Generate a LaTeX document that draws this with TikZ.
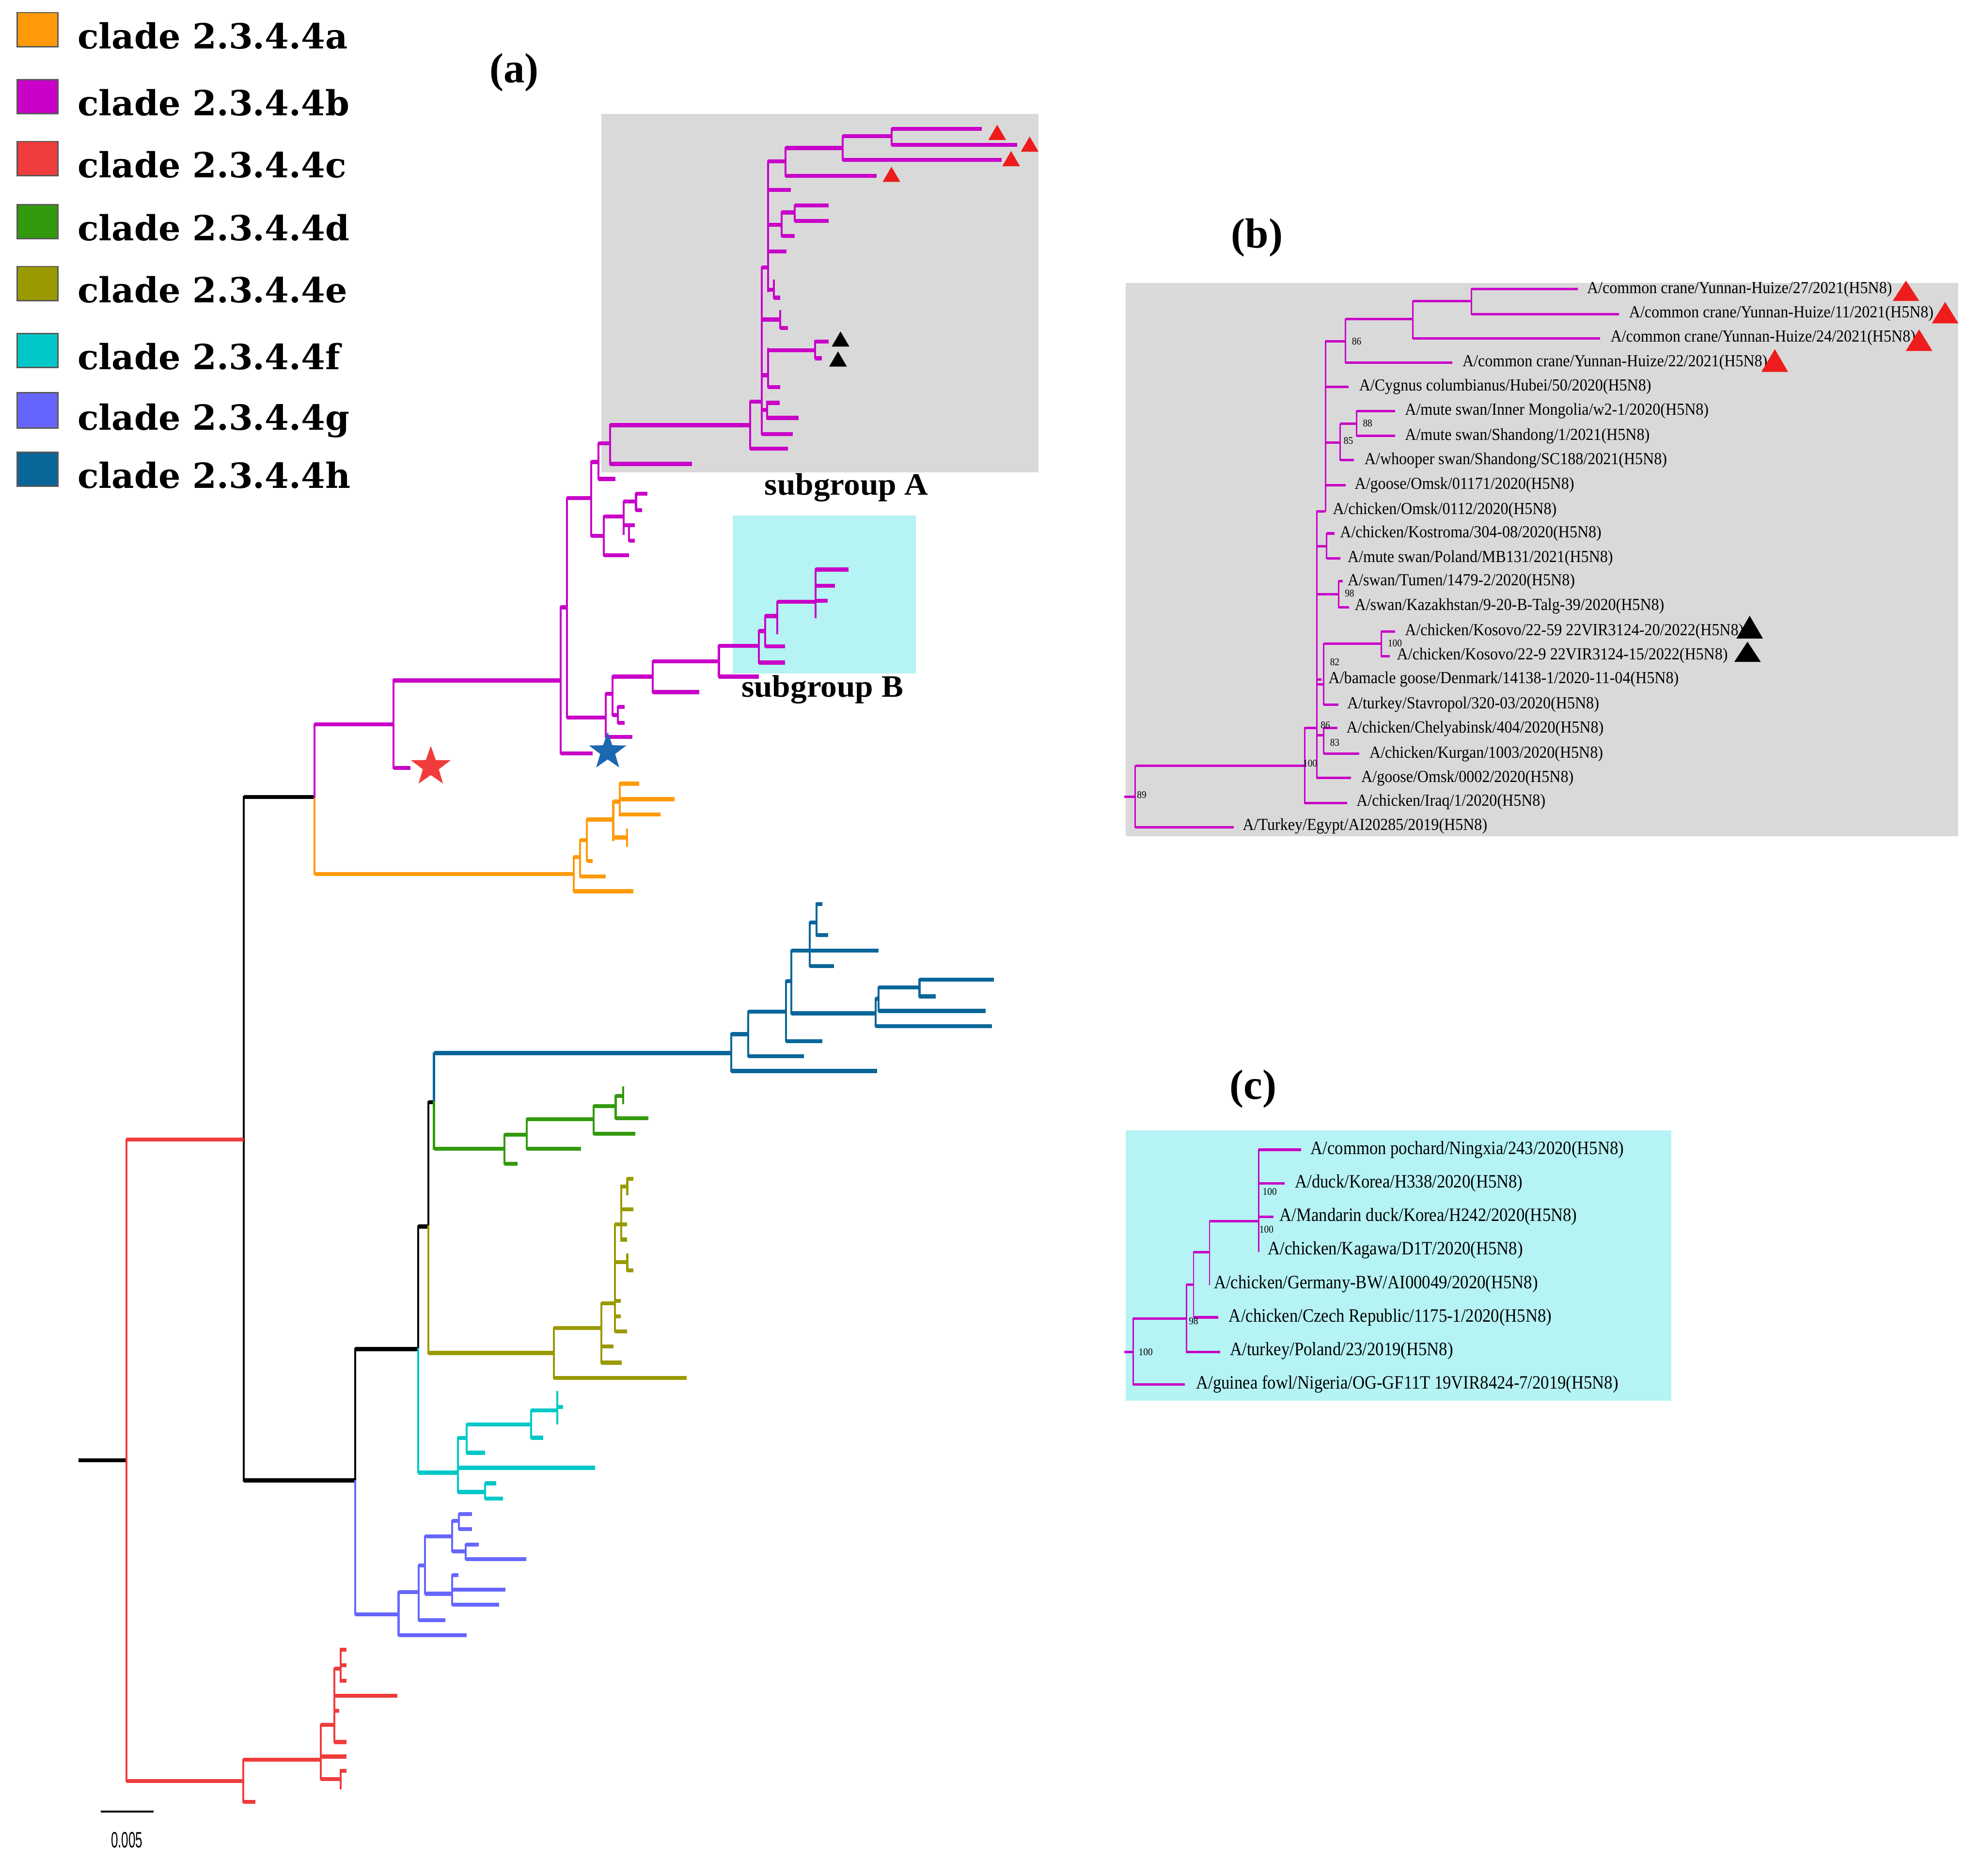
\documentclass[tikz,border=0pt]{standalone}
\usepackage{fontspec}
\setmainfont{Liberation Serif}
\newfontfamily\legfont{DejaVu Serif}
\newfontfamily\bfnt[FakeStretch=0.92]{Liberation Serif}
\newfontfamily\cfnt[FakeStretch=0.89]{Liberation Serif}
\newfontfamily\sgfnt[FakeStretch=1.05]{Liberation Serif}
\newfontfamily\sbfnt[FakeStretch=0.57]{Liberation Sans}
\usetikzlibrary{shapes.geometric}
\definecolor{cA}{HTML}{FF9A0A}
\definecolor{cB}{HTML}{C800C8}
\definecolor{cC}{HTML}{F03C3C}
\definecolor{cD}{HTML}{339A0E}
\definecolor{cE}{HTML}{9A9A00}
\definecolor{cF}{HTML}{00C8C8}
\definecolor{cG}{HTML}{6666FF}
\definecolor{cH}{HTML}{0A6699}
\definecolor{grayA}{HTML}{D9D9D9}
\definecolor{cyanB}{HTML}{B5F3F4}
\definecolor{starblue}{HTML}{1B67B0}
\definecolor{starred}{HTML}{F23B3B}
\definecolor{trired}{HTML}{EE1C1C}
\newcommand\hbr[3]{\draw[hb] (#2,#1) -- (#3,#1);}
\newcommand\vbr[3]{\draw[vb] (#1,#2) -- (#1,#3);}
\newcommand\hbb[3]{\draw[hbs] (#2,#1) -- (#3,#1);}
\newcommand\vbb[3]{\draw[vbs] (#1,#2) -- (#1,#3);}
\newcommand\mytri[5]{\fill[#1] (#2,#3) ++(-#4/2,#5/2) -- ++(#4,0) -- ++(-#4/2,-#5) -- cycle;}
\tikzset{
 hb/.style={line width=0.9pt},
 vb/.style={line width=0.45pt,line cap=rect},
 hbs/.style={line width=0.55pt},
 vbs/.style={line width=0.3pt,line cap=rect},
 lb/.style={anchor=west,inner sep=0pt,font=\bfnt\fontsize{3.8}{4}\selectfont},
 lc/.style={anchor=west,inner sep=0pt,font=\cfnt\fontsize{4.25}{5}\selectfont},
 bs/.style={inner sep=0pt,font=\bfnt\fontsize{2.3}{2.5}\selectfont},
 leg/.style={anchor=base west,inner sep=0pt,font=\legfont\bfseries\fontsize{7.8}{9}\selectfont},
 ttl/.style={inner sep=0pt,font=\bfseries\fontsize{9.5}{11}\selectfont},
 sg/.style={inner sep=0pt,font=\sgfnt\bfseries\fontsize{7}{8}\selectfont},
 sq/.style={draw=black!65,line width=0.3pt},
}
\begin{document}
\begin{tikzpicture}[x=0.01cm,y=-0.01cm]
\useasboundingbox[fill=white] (0,0) rectangle (1568,1485);
% ---------------- legend
\foreach \t/\b/\c/\l [count=\i] in {10/37/cA/a,63/90/cB/b,112/139/cC/c,162/189/cD/d,211/238/cE/e,264/291/cF/f,311/339/cG/g,358/385/cH/h}{
  \filldraw[sq,fill=\c] (13.7,\t) rectangle (45.8,\b);
  \node[leg] (leg\i) at (60.7,\b+1.5) {clade 2.3.4.4\l};
}
% ---------------- boxes
\fill[grayA] (476,90) rectangle (822,374);
\fill[cyanB] (580,408) rectangle (725,533);
\fill[grayA] (891,224) rectangle (1550,662);
\fill[cyanB] (891,895) rectangle (1323,1109);
% ---------------- titles
\node[ttl] (ta) at (407,57.5) {(a)};
\node[ttl] (tb) at (995,188) {(b)};
\node[ttl] (tc) at (992,862) {(c)};
\node[sg] (sgA) at (670,386) {subgroup A};
\node[sg] (sgB) at (651,546) {subgroup B};
% ---------------- tree (a): black backbone
\begin{scope}[black]
\hbr{1156}{62}{100}
\hbr{631}{193}{249}
\vbr{193}{631}{1172}
\hbr{1172}{193}{281}
\vbr{281}{1068}{1172}
\hbr{1068}{281}{331}
\vbr{331}{971}{1068}
\hbr{971}{331}{339}
\vbr{339}{872.6}{971}
\hbr{872.6}{339}{343.5}
\end{scope}
% red clade c
\begin{scope}[cC]
\vbr{100}{902}{1410}
\hbr{902}{100}{193}
\hbr{1410}{100}{192.4}
\vbr{192.4}{1393.1}{1426.5}
\hbr{1426.5}{192.4}{202}
\hbr{1393.1}{192.4}{254}
\vbr{254}{1365.6}{1408.4}
\hbr{1390.6}{254}{274.3}
\hbr{1408.4}{254}{269.5}
\vbr{269.5}{1401.3}{1415.7}
\hbr{1402}{269.5}{274.3}
\hbr{1365.6}{254}{264.7}
\vbr{264.7}{1321}{1379.1}
\hbr{1379.1}{264.7}{274.3}
\hbr{1354.5}{264.7}{268.5}
\hbr{1342.4}{264.7}{314.7}
\hbr{1321}{264.7}{269.5}
\vbr{269.5}{1305.4}{1331.5}
\hbr{1306}{269.5}{274.3}
\hbr{1318.4}{269.5}{274.3}
\hbr{1330.6}{269.5}{274.3}
\end{scope}
% orange clade a
\begin{scope}[cA]
\vbr{249}{631}{691.6}
\hbr{692}{249}{454.2}
\vbr{454.2}{678.5}{705.6}
\hbr{705.6}{454.2}{501.5}
\hbr{678.5}{454.2}{459}
\vbr{459}{665}{694}
\hbr{694}{459}{479.5}
\hbr{665}{459}{464.4}
\vbr{464.4}{648.8}{681.7}
\hbr{681.7}{464.4}{469.2}
\hbr{648.8}{464.4}{485.4}
\vbr{485.4}{634.6}{665}
\hbr{663}{485.4}{496.4}
\vbr{496.4}{656.6}{669.5}
\hbr{634.6}{485.4}{490.5}
\vbr{490.5}{620.4}{645.6}
\hbr{620.4}{490.5}{506}
\hbr{632.7}{490.5}{533.8}
\hbr{644.7}{490.5}{522.8}
\end{scope}
% magenta clade b
\begin{scope}[cB]
\vbr{249}{573.5}{631}
\hbr{573.5}{249}{311.6}
\vbr{311.6}{538}{608}
\hbr{608}{311.6}{325}
\hbr{538.7}{311.6}{443.9}
\vbr{443.9}{480.8}{596.4}
\hbr{480.8}{443.9}{448.8}
\hbr{596.4}{443.9}{469.2}
\vbr{448.8}{394.4}{568.1}
\hbr{394.4}{448.8}{468.1}
\hbr{568.1}{448.8}{479.6}
\vbr{468.1}{365.7}{424.3}
\hbr{365.7}{468.1}{473.8}
\vbr{473.8}{351.1}{379.2}
\hbr{379.2}{473.8}{487.2}
\hbr{351.1}{473.8}{482.8}
\vbr{482.8}{336.6}{367.3}
\hbr{367.3}{482.8}{547.9}
\hbr{336.6}{482.8}{593.6}
\vbr{593.6}{317.9}{355.3}
\hbr{355.3}{593.6}{623.7}
\hbr{317.9}{593.6}{602.9}
\vbr{602.9}{211.8}{343.8}
\hbr{343.8}{602.9}{627.4}
\hbr{324.4}{602.9}{607.1}
\vbr{607.1}{317.9}{331.4}
\hbr{318.9}{607.1}{617.3}
\hbr{330.8}{607.1}{632.2}
\hbr{297.1}{602.9}{607.8}
\vbr{607.8}{276.3}{306.4}
\hbr{277.3}{607.8}{645}
\vbr{645}{270.1}{283.6}
\hbr{270.4}{645}{656}
\hbr{283.6}{645}{650.6}
\hbr{306.4}{607.8}{617.6}
\hbr{253}{602.9}{617.5}
\vbr{617.5}{246.1}{259.6}
\hbr{259.6}{617.5}{623.7}
\hbr{211.8}{602.9}{607.8}
\vbr{607.8}{127.6}{230.5}
\hbr{229.5}{607.8}{612.4}
\vbr{612.4}{222.2}{235.7}
\hbr{235.7}{612.4}{617.6}
\hbr{199}{607.8}{622.5}
\hbr{178}{607.8}{618.8}
\vbr{618.8}{168.2}{186.9}
\hbr{186.9}{618.8}{629.1}
\hbr{168.2}{618.8}{629.1}
\vbr{629.1}{162.6}{174.8}
\hbr{162.6}{629.1}{656}
\hbr{174.8}{629.1}{656}
\hbr{150.5}{607.8}{626.1}
\hbr{127.6}{607.8}{621.7}
\vbr{621.7}{117.2}{139.1}
\hbr{139.1}{621.7}{693.9}
\hbr{117.2}{621.7}{667}
\vbr{667}{107.9}{126.6}
\hbr{126.6}{667}{793}
\hbr{107.9}{667}{705.6}
\vbr{705.6}{102}{114.7}
\hbr{102}{705.6}{777}
\hbr{114.7}{705.6}{805.2}
% upper small clade
\hbr{424.3}{468.1}{478}
\vbr{478}{408.9}{439.7}
\hbr{439.7}{478}{497.9}
\hbr{408.9}{478}{493.5}
\vbr{493.5}{396.9}{422.6}
\hbr{396.9}{493.5}{503.4}
\vbr{503.4}{390.9}{403.8}
\hbr{390.9}{503.4}{512.6}
\hbr{403.8}{503.4}{508.2}
\hbr{415.8}{493.5}{497.9}
\vbr{497.9}{415.8}{428.1}
\hbr{415.8}{497.9}{502.3}
\hbr{428.1}{497.9}{502.3}
% subgroup B lineage
\vbr{479.6}{549.3}{583.5}
\hbr{583.5}{479.6}{500.7}
\hbr{549.3}{479.6}{484.7}
\vbr{484.7}{535.6}{566}
\hbr{566}{484.7}{489}
\vbr{489}{559.6}{572.4}
\hbr{559.6}{489}{494.6}
\hbr{572.4}{489}{494.6}
\hbr{535.6}{484.7}{516.6}
\vbr{516.6}{523.6}{547.9}
\hbr{547.9}{516.6}{553.6}
\hbr{523.6}{516.6}{569}
\vbr{569}{511.3}{535.6}
\hbr{535.6}{569}{600.7}
\hbr{511.3}{569}{600.7}
\vbr{600.7}{499.6}{524.5}
\hbr{524.5}{600.7}{621.2}
\hbr{499.6}{600.7}{605.8}
\vbr{605.8}{487.7}{511.6}
\hbr{511.6}{605.8}{621.2}
\hbr{487.7}{605.8}{615.2}
\vbr{615.2}{476.5}{501.4}
\hbr{476.5}{615.2}{645.4}
\vbr{645.4}{450.9}{488.5}
\hbr{450.9}{645.4}{671.8}
\hbr{463.7}{645.4}{660.8}
\hbr{475.7}{645.4}{655.3}
\end{scope}
% dark blue clade h
\begin{scope}[cH]
\vbr{343.5}{833.7}{872.6}
\hbr{833.7}{343.5}{578.9}
\vbr{578.9}{818.7}{847.9}
\hbr{847.9}{578.9}{694.4}
\hbr{818.7}{578.9}{592.1}
\vbr{592.1}{800.9}{836.2}
\hbr{836.2}{592.1}{636.2}
\hbr{800.9}{592.1}{622}
\vbr{622}{776.8}{824.4}
\hbr{824.4}{622}{650.8}
\hbr{776.8}{622}{626.3}
\vbr{626.3}{752.6}{802.2}
\hbr{802.2}{626.3}{693}
\vbr{693}{790.7}{812.3}
\hbr{812.3}{693}{785.1}
\hbr{790.7}{693}{695.3}
\vbr{695.3}{781.8}{800.3}
\hbr{800.3}{695.3}{780}
\hbr{781.8}{695.3}{727.8}
\vbr{727.8}{775.5}{788.8}
\hbr{775.5}{727.8}{786.8}
\hbr{788.8}{727.8}{740.6}
\hbr{752.6}{626.3}{695.3}
\vbr{641}{730.4}{764.7}
\hbr{764.7}{641}{660.2}
\hbr{730.4}{641}{646.2}
\vbr{646.2}{715.2}{740.6}
\hbr{715.6}{646.2}{650.8}
\hbr{740.2}{646.2}{655.4}
\end{scope}
% green clade d
\begin{scope}[cD]
\vbr{343.5}{872.6}{909.4}
\hbr{909.4}{343.5}{399.2}
\vbr{399.2}{898.3}{921.4}
\hbr{921.4}{399.2}{409.8}
\hbr{898.3}{399.2}{416.8}
\vbr{416.8}{886}{909.4}
\hbr{909.4}{416.8}{459.9}
\hbr{886}{416.8}{470}
\vbr{470}{875.7}{897.4}
\hbr{897.4}{470}{503}
\hbr{875.7}{470}{487.3}
\vbr{487.3}{867.5}{885.4}
\hbr{885.4}{487.3}{513.1}
\hbr{867.5}{487.3}{493.2}
\vbr{493.2}{860.6}{873.5}
\end{scope}
% olive clade e
\begin{scope}[cE]
\vbr{339}{971}{1071.1}
\hbr{1071.1}{339}{438.4}
\vbr{438.4}{1051.4}{1090.8}
\hbr{1090.8}{438.4}{543.5}
\hbr{1051.4}{438.4}{476}
\vbr{476}{1031.7}{1078.8}
\hbr{1078.8}{476}{492}
\hbr{1066}{476}{485.7}
\hbr{1031.7}{476}{486.7}
\vbr{486.7}{969.3}{1054}
\hbr{1054}{486.7}{496.5}
\hbr{1042}{486.7}{491.2}
\hbr{1030}{486.7}{491.2}
\hbr{999.2}{486.7}{496.5}
\vbr{496.5}{993.2}{1006.1}
\hbr{1005.7}{496.5}{501.4}
\hbr{969.3}{486.7}{491.6}
\vbr{491.6}{938.5}{982.1}
\hbr{981.3}{491.6}{496.5}
\hbr{969.3}{491.6}{496.5}
\hbr{957.3}{491.6}{501.4}
\hbr{939.3}{491.6}{496.5}
\vbr{496.5}{933.3}{945.3}
\hbr{933.3}{496.5}{501.4}
\end{scope}
% cyan clade f
\begin{scope}[cF]
\vbr{331}{1068}{1165.8}
\hbr{1165.8}{331}{362.5}
\vbr{362.5}{1138.3}{1181.2}
\hbr{1162}{362.5}{470.9}
\hbr{1181.2}{362.5}{383.8}
\vbr{383.8}{1174.3}{1186.4}
\hbr{1174.3}{383.8}{392.9}
\hbr{1186.4}{383.8}{398.3}
\hbr{1138.3}{362.5}{369.3}
\vbr{369.3}{1127.6}{1150.1}
\hbr{1150.1}{369.3}{383.8}
\hbr{1127.6}{369.3}{420.5}
\vbr{420.5}{1116.6}{1138.2}
\hbr{1138.2}{420.5}{429.9}
\hbr{1116.6}{420.5}{441}
\vbr{441}{1101.9}{1126.9}
\hbr{1114}{441}{445.6}
\end{scope}
% purple clade g
\begin{scope}[cG]
\vbr{281}{1172.7}{1277.9}
\hbr{1277.9}{281}{315.5}
\vbr{315.5}{1260.3}{1294.4}
\hbr{1294.4}{315.5}{369.3}
\hbr{1260.3}{315.5}{331.3}
\vbr{331.3}{1239.3}{1282.6}
\hbr{1282.6}{331.3}{352.4}
\hbr{1239.3}{331.3}{336.4}
\vbr{336.4}{1216.2}{1261.7}
\hbr{1261.7}{336.4}{357.9}
\vbr{357.9}{1247}{1270.5}
\hbr{1247}{357.9}{363}
\hbr{1258.4}{357.9}{400}
\hbr{1270.5}{357.9}{394.9}
\hbr{1216.2}{336.4}{357.9}
\vbr{357.9}{1204}{1228.2}
\hbr{1228.2}{357.9}{368.5}
\vbr{368.5}{1222.8}{1234.4}
\hbr{1222.8}{368.5}{379}
\hbr{1234.4}{368.5}{416.6}
\hbr{1204}{357.9}{363.3}
\vbr{363.3}{1198.6}{1210.6}
\hbr{1198.6}{363.3}{373.6}
\hbr{1210.6}{363.3}{373.6}
\end{scope}
% markers (a)
\node[star,star points=5,star point ratio=2.5,fill=starred,inner sep=0pt,minimum size=0.33cm] (rstar) at (341,607) {};
\node[star,star points=5,star point ratio=2.5,fill=starblue,inner sep=0pt,minimum size=0.31cm] (bstar) at (481,595) {};
\mytri{trired}{789.3}{104.8}{14}{12}
\mytri{trired}{815}{114.1}{14}{12}
\mytri{trired}{800.3}{125.6}{14}{12}
\mytri{trired}{705.6}{138}{14}{12}
\mytri{black}{665.3}{268.4}{14}{12}
\mytri{black}{663.3}{284.2}{14}{12}
% scale bar
\draw[line width=0.5pt] (79.8,1434.2) coordinate (sbl) -- (121.6,1434.2) coordinate (sbr);
\node[inner sep=0pt,font=\sbfnt\fontsize{5}{6}\selectfont] (sbt) at (100.4,1456.5) {0.005};
% ---------------- panel (b) tree
\begin{scope}[cB]
\hbb{630.6}{889.9}{898.6}
\vbb{898.6}{606.4}{654.8}
\hbb{654.8}{898.6}{976.4}
\hbb{606.4}{898.6}{1032.7}
\vbb{1032.7}{576.2}{635.7}
\hbb{635.7}{1032.7}{1066.4}
\hbb{576.2}{1032.7}{1042.2}
\vbb{1042.2}{404.7}{615.9}
\hbb{615.9}{1042.2}{1069.5}
\hbb{582.1}{1042.2}{1047.8}
\vbb{1047.8}{576.2}{596.8}
\hbb{576.2}{1047.8}{1058.6}
\hbb{596.8}{1047.8}{1076}
\hbb{541.7}{1042.2}{1047.8}
\vbb{1047.8}{509.4}{557.9}
\hbb{557.9}{1047.8}{1059.5}
\hbb{509.4}{1047.8}{1093.3}
\vbb{1093.3}{499.9}{519.7}
\hbb{499.9}{1093.3}{1104.1}
\hbb{519.7}{1093.3}{1100}
\hbb{538}{1042.2}{1046}
\hbb{470.5}{1042.2}{1059.5}
\vbb{1059.5}{460.2}{480.8}
\hbb{460.2}{1059.5}{1063}
\hbb{480.8}{1059.5}{1068}
\hbb{432.6}{1042.2}{1050}
\vbb{1050}{422.3}{442.1}
\hbb{422.3}{1050}{1056.5}
\hbb{442.1}{1050}{1060.8}
\hbb{404.7}{1042.2}{1049.1}
\vbb{1049.1}{270.2}{404.7}
\hbb{384.1}{1049.1}{1065.1}
\hbb{350.3}{1049.1}{1060.8}
\vbb{1060.8}{335.6}{364.3}
\hbb{364.3}{1060.8}{1071.6}
\hbb{335.6}{1060.8}{1073.8}
\vbb{1073.8}{325.3}{345.2}
\hbb{325.3}{1073.8}{1104.1}
\hbb{345.2}{1073.8}{1104.1}
\hbb{306.2}{1049.1}{1067.3}
\hbb{270.2}{1049.1}{1065.1}
\vbb{1065.1}{252.6}{287.1}
\hbb{287.1}{1065.1}{1149.5}
\hbb{252.6}{1065.1}{1118.4}
\vbb{1118.4}{238.4}{268}
\hbb{268}{1118.4}{1266.4}
\hbb{238.4}{1118.4}{1164.7}
\vbb{1164.7}{228.7}{248.6}
\hbb{228.7}{1164.7}{1249}
\hbb{248.6}{1164.7}{1281.5}
\end{scope}
\node[lb] (b1) at (1255.5,229) {A/common crane/Yunnan-Huize/27/2021(H5N8)};
\node[lb] (b2) at (1288.8,248.2) {A/common crane/Yunnan-Huize/11/2021(H5N8)};
\node[lb] (b3) at (1274.1,267.3) {A/common crane/Yunnan-Huize/24/2021(H5N8)};
\node[lb] (b4) at (1156.9,287.1) {A/common crane/Yunnan-Huize/22/2021(H5N8)};
\node[lb] (b5) at (1075.1,306.2) {A/Cygnus columbianus/Hubei/50/2020(H5N8)};
\node[lb] (b6) at (1111.4,325.3) {A/mute swan/Inner Mongolia/w2-1/2020(H5N8)};
\node[lb] (b7) at (1111.4,345.2) {A/mute swan/Shandong/1/2021(H5N8)};
\node[lb] (b8) at (1079.4,364.3) {A/whooper swan/Shandong/SC188/2021(H5N8)};
\node[lb] (b9) at (1071.6,384.1) {A/goose/Omsk/01171/2020(H5N8)};
\node[lb] (b10) at (1054.3,403.9) {A/chicken/Omsk/0112/2020(H5N8)};
\node[lb] (b11) at (1060,422.3) {A/chicken/Kostroma/304-08/2020(H5N8)};
\node[lb] (b12) at (1066,442.1) {A/mute swan/Poland/MB131/2021(H5N8)};
\node[lb] (b13) at (1066,460.2) {A/swan/Tumen/1479-2/2020(H5N8)};
\node[lb] (b14) at (1071.6,480) {A/swan/Kazakhstan/9-20-B-Talg-39/2020(H5N8)};
\node[lb] (b15) at (1111.4,499.9) {A/chicken/Kosovo/22-59 22VIR3124-20/2022(H5N8)};
\node[lb] (b16) at (1105,519) {A/chicken/Kosovo/22-9 22VIR3124-15/2022(H5N8)};
\node[lb] (b17) at (1050.9,538) {A/bamacle goose/Denmark/14138-1/2020-11-04(H5N8)};
\node[lb] (b18) at (1065.6,557.9) {A/turkey/Stavropol/320-03/2020(H5N8)};
\node[lb] (b19) at (1065.1,577) {A/chicken/Chelyabinsk/404/2020(H5N8)};
\node[lb] (b20) at (1083.3,596.8) {A/chicken/Kurgan/1003/2020(H5N8)};
\node[lb] (b21) at (1076.8,615.9) {A/goose/Omsk/0002/2020(H5N8)};
\node[lb] (b22) at (1073,635) {A/chicken/Iraq/1/2020(H5N8)};
\node[lb] (b23) at (983,654.1) {A/Turkey/Egypt/AI20285/2019(H5N8)};
\node[bs] (s1) at (1073.8,270.2) {86};
\node[bs] (s2) at (1082.5,334.9) {88};
\node[bs] (s3) at (1067.3,348.8) {85};
\node[bs] (s4) at (1068.2,469.7) {98};
\node[bs] (s5) at (1104.1,509.4) {100};
\node[bs] (s6) at (1056.5,524.1) {82};
\node[bs] (s7) at (1049.1,574) {86};
\node[bs] (s8) at (1056.5,587.9) {83};
\node[bs] (s9) at (1037,604.2) {100};
\node[bs] (s10) at (903.7,629.1) {89};
\mytri{trired}{1508.6}{230.2}{21}{16}
\mytri{trired}{1539.6}{247.5}{21}{17}
\mytri{trired}{1519}{269.3}{21}{17}
\mytri{trired}{1404.8}{285.4}{21}{18}
\mytri{black}{1384.9}{496.5}{21}{18}
\mytri{black}{1383.2}{516}{21}{16}
% ---------------- panel (c) tree
\begin{scope}[cB]
\hbb{1070.2}{889.9}{896.9}
\vbb{896.9}{1043.7}{1096}
\hbb{1096}{896.9}{937.7}
\hbb{1043.7}{896.9}{939.1}
\vbb{939.1}{1017.1}{1070.2}
\hbb{1070.2}{939.1}{965.8}
\hbb{1017.1}{939.1}{944.7}
\vbb{944.7}{991.4}{1042.9}
\hbb{1042.9}{944.7}{964.4}
\hbb{991.4}{944.7}{957.4}
\vbb{957.4}{966.8}{1017.1}
\hbb{966.8}{957.4}{996.2}
\vbb{996.2}{910.2}{990.6}
\hbb{910.2}{996.2}{1029.9}
\hbb{936.8}{996.2}{1017}
\hbb{963.3}{996.2}{1008}
\end{scope}
\node[lc] (c1) at (1036.7,910.2) {A/common pochard/Ningxia/243/2020(H5N8)};
\node[lc] (c2) at (1024.3,936.8) {A/duck/Korea/H338/2020(H5N8)};
\node[lc] (c3) at (1012.2,963.3) {A/Mandarin duck/Korea/H242/2020(H5N8)};
\node[lc] (c4) at (1003,989.8) {A/chicken/Kagawa/D1T/2020(H5N8)};
\node[lc] (c5) at (960.2,1016.4) {A/chicken/Germany-BW/AI00049/2020(H5N8)};
\node[lc] (c6) at (972,1042.9) {A/chicken/Czech Republic/1175-1/2020(H5N8)};
\node[lc] (c7) at (972.9,1069.4) {A/turkey/Poland/23/2019(H5N8)};
\node[lc] (c8) at (946.1,1096) {A/guinea fowl/Nigeria/OG-GF11T 19VIR8424-7/2019(H5N8)};
\node[bs] (t1) at (1005,943.6) {100};
\node[bs] (t2) at (1002.4,973.2) {100};
\node[bs] (t3) at (944.7,1046) {98};
\node[bs] (t4) at (906.8,1070.2) {100};
\end{tikzpicture}
\end{document}
